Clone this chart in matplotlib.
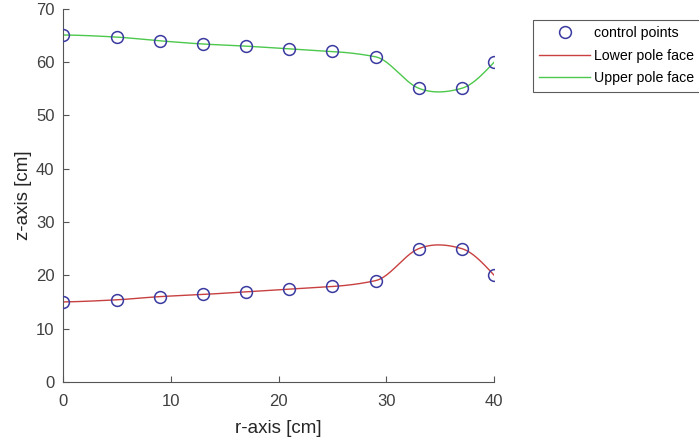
import matplotlib.pyplot as plt
import numpy as np

plt.rcParams['font.family'] = ['Liberation Sans', 'DejaVu Sans']

# Control points of the pole faces
r_pts = [0, 5, 9, 13, 17, 21, 25, 29, 33, 37, 40]
z_upper = [65.1, 64.7, 64.0, 63.4, 63.0, 62.5, 62.0, 61.0, 55.1, 55.1, 60.0]
z_lower = [15.0, 15.4, 16.0, 16.4, 16.9, 17.4, 17.9, 19.0, 25.0, 25.0, 20.0]


def makima(x, y, xs):
    # modified Akima piecewise cubic Hermite curve through (x, y)
    x = np.asarray(x, float)
    y = np.asarray(y, float)
    h = np.diff(x)
    delta = np.diff(y) / h
    n = len(x)
    # extend slopes by two on each side
    dm1 = 2 * delta[0] - delta[1]
    dm2 = 2 * dm1 - delta[0]
    dp1 = 2 * delta[-1] - delta[-2]
    dp2 = 2 * dp1 - delta[-1]
    ext = np.concatenate([[dm2, dm1], delta, [dp1, dp2]])
    d = np.zeros(n)
    for i in range(n):
        a, b, c, e = ext[i], ext[i + 1], ext[i + 2], ext[i + 3]
        w1 = abs(e - c) + abs(e + c) / 2
        w2 = abs(b - a) + abs(b + a) / 2
        if w1 + w2 == 0:
            d[i] = 0.0
        else:
            d[i] = (w1 * b + w2 * c) / (w1 + w2)

    idx = np.clip(np.searchsorted(x, xs) - 1, 0, n - 2)
    hh = h[idx]
    t = (xs - x[idx]) / hh
    h00 = 2 * t**3 - 3 * t**2 + 1
    h10 = t**3 - 2 * t**2 + t
    h01 = -2 * t**3 + 3 * t**2
    h11 = t**3 - t**2
    return (h00 * y[idx] + h10 * hh * d[idx]
            + h01 * y[idx + 1] + h11 * hh * d[idx + 1])


r_fine = np.linspace(0, 40, 400)

fig = plt.figure(figsize=(6.99, 4.43), dpi=100)
ax = fig.add_axes([0.090, 0.138, 0.617, 0.842])

ax.plot(r_pts, z_lower, 'o', ms=8.5, mfc='none', mec='#3a3aa0', mew=1.1,
        label='control points', zorder=3)
ax.plot(r_pts, z_upper, 'o', ms=8.5, mfc='none', mec='#3a3aa0', mew=1.1, zorder=3)
ax.plot(r_fine, makima(r_pts, z_lower, r_fine), color='#c84040', lw=1,
        label='Lower pole face')
ax.plot(r_fine, makima(r_pts, z_upper, r_fine), color='#4cc84c', lw=1,
        label='Upper pole face')

ax.set_xlim(0, 40)
ax.set_ylim(0, 70)
ax.set_xticks([0, 10, 20, 30, 40])
ax.set_yticks(range(0, 71, 10))
for s in ['top', 'right']:
    ax.spines[s].set_visible(False)
for s in ['left', 'bottom']:
    ax.spines[s].set_color('#555555')
ax.tick_params(direction='in', length=4, colors='#555555', labelsize=12,
               labelcolor='#404040')
ax.tick_params(axis='x', pad=9)
ax.tick_params(axis='y', pad=6)
ax.set_xlabel('r-axis [cm]', fontsize=13.5, color='#262626', labelpad=8)
ax.set_ylabel('z-axis [cm]', fontsize=13.5, color='#262626', labelpad=3)

leg = fig.legend(loc='upper left', bbox_to_anchor=(0.762, 0.955), fontsize=10.2,
                 handlelength=3.6, handletextpad=0.25, labelspacing=0.6,
                 borderpad=0.45, borderaxespad=0, fancybox=False, frameon=True)
leg.get_frame().set_edgecolor('#333333')
leg.get_frame().set_linewidth(0.8)

fig.savefig('out.png', dpi=100)
